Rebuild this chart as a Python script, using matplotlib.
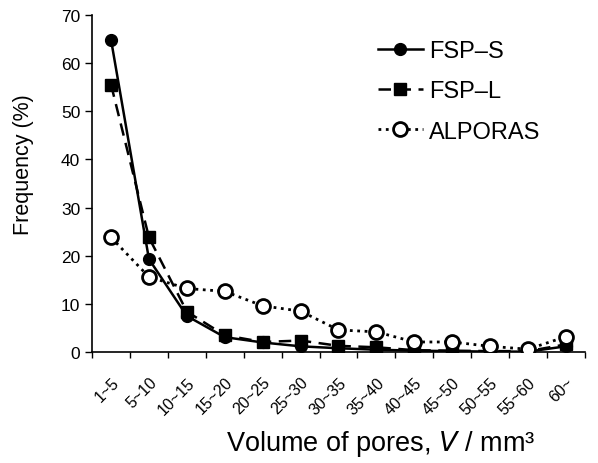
import numpy as np
import matplotlib.pyplot as plt

plt.rcParams['font.family'] = ['Liberation Sans', 'DejaVu Sans']

# pore volume classes and frequencies (%)
categories = ['1~5', '5~10', '10~15', '15~20', '20~25', '25~30', '30~35',
              '35~40', '40~45', '45~50', '50~55', '55~60', '60~']
fsp_s = [64.8, 19.3, 7.5, 3.1, 2.0, 1.2, 0.8, 0.5, 0.3, 0.2, 0.1, 0.1, 1.2]
fsp_l = [55.5, 23.8, 8.4, 3.5, 2.1, 2.4, 1.3, 1.0, 0.4, 0.3, 0.2, 0.2, 1.6]
alporas = [23.8, 15.6, 13.2, 12.6, 9.6, 8.5, 4.6, 4.2, 2.1, 2.1, 1.2, 0.6, 3.2]

fig = plt.figure(figsize=(5.98, 4.64), dpi=100)
ax = fig.add_axes([0.154, 0.239, 0.824, 0.727])

x = np.arange(len(categories))
ax.plot(x, fsp_s, '-', color='black', lw=1.8, marker='o', ms=8.5,
        mfc='black', mec='black', label='FSP\u2013S', zorder=3)
ax.plot(x, fsp_l, '--', color='black', lw=1.8, marker='s', ms=8,
        mfc='black', mec='black', label='FSP\u2013L', dashes=(5, 3), zorder=3)
ax.plot(x, alporas, ':', color='black', lw=2.0, marker='o', ms=10,
        mfc='white', mec='black', mew=2.0, label='ALPORAS', zorder=4)

ax.set_xlim(-0.5, len(categories) - 0.5)
ax.set_ylim(0, 70)
ax.set_yticks(np.arange(0, 71, 10))
# tick marks sit between the classes, labels at class centres
ax.set_xticks(np.arange(-0.5, len(categories), 1.0))
ax.set_xticklabels([])
ax.set_xticks(x, minor=True)
ax.set_xticklabels(categories, minor=True, rotation=45, ha='right',
                   rotation_mode='anchor', fontsize=11.5)
ax.tick_params(axis='x', which='minor', length=0, pad=16)
ax.tick_params(axis='x', which='major', length=4, width=1, direction='out')
ax.tick_params(axis='y', length=5, width=1, direction='out', labelsize=12.5)

for s in ['top', 'right']:
    ax.spines[s].set_visible(False)
for s in ['left', 'bottom']:
    ax.spines[s].set_linewidth(1.2)

ax.set_ylabel('Frequency (%)', fontsize=15.5)
ax.yaxis.set_label_coords(-0.118, 0.56)
ax.set_xlabel('Volume of pores, $V$ / mm\u00b3', fontsize=19.5)
ax.xaxis.set_label_coords(0.585, -0.225)

fig.legend(loc='upper left', bbox_to_anchor=(0.632, 0.912),
           bbox_transform=fig.transFigure, frameon=False, borderpad=0,
           borderaxespad=0, fontsize=17, handlelength=1.9,
           handletextpad=0.25, labelspacing=0.78)

fig.savefig('out.png', dpi=100)
